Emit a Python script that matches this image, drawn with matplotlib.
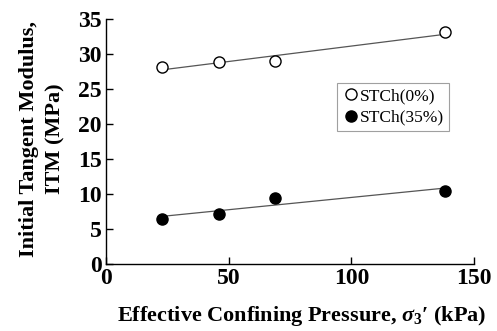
import numpy as np
import matplotlib
matplotlib.use("Agg")
import matplotlib.pyplot as plt

plt.rcParams['font.family'] = ['Liberation Serif', 'DejaVu Serif']
plt.rcParams['mathtext.fontset'] = 'custom'
plt.rcParams['mathtext.rm'] = 'Liberation Serif:bold'
plt.rcParams['mathtext.it'] = 'Liberation Serif:italic:bold'
plt.rcParams['mathtext.bf'] = 'Liberation Serif:bold'

# confining pressure (kPa)
pressure = [23, 46, 69, 138]
# initial tangent modulus (MPa)
itm_0 = [28.1, 28.9, 29.0, 33.1]
itm_35 = [6.5, 7.2, 9.5, 10.5]
labels = ['STCh(0%)', 'STCh(35%)']

fig = plt.figure(figsize=(4.97, 3.31), dpi=100)
ax = fig.add_axes([0.213, 0.2024, 0.741, 0.740])

xs = np.array([min(pressure), max(pressure)])
for vals in (itm_0, itm_35):
    k, b = np.polyfit(pressure, vals, 1)
    ax.plot(xs, k * xs + b, color='#555555', lw=0.9, zorder=1)

ax.plot(pressure, itm_0, 'o', ms=8, mfc='white', mec='black', mew=1.0,
        label=labels[0], zorder=3)
ax.plot(pressure, itm_35, 'o', ms=8, mfc='black', mec='black', mew=1.0,
        label=labels[1], zorder=3)

ax.set_xlim(0, 150)
ax.set_ylim(0, 35)
ax.set_xticks([0, 50, 100, 150])
ax.set_yticks(range(0, 36, 5))
ax.spines['top'].set_visible(False)
ax.spines['right'].set_visible(False)
for s in ('left', 'bottom'):
    ax.spines[s].set_linewidth(1.0)
ax.tick_params(direction='in', length=5, width=1.0, labelsize=17, pad=3)
for t in ax.get_xticklabels() + ax.get_yticklabels():
    t.set_fontweight('bold')

ax.set_xlabel("Effective Confining Pressure, $\\sigma_3$\u2032 (kPa)",
              fontsize=16, fontweight='bold')
ax.xaxis.set_label_coords(0.533, -0.165)
ax.set_ylabel("Initial Tangent Modulus,\nITM (MPa)", fontsize=16,
              fontweight='bold', linespacing=1.4)
ax.yaxis.set_label_coords(-0.11, 0.51)

leg = ax.legend(loc='upper left', bbox_to_anchor=(0.628, 0.739), fontsize=12.5,
                frameon=True, fancybox=False, handletextpad=0.0,
                handlelength=1.0, borderpad=0.3, labelspacing=0.3,
                borderaxespad=0)
leg.get_frame().set_edgecolor('#888888')
leg.get_frame().set_linewidth(0.8)

fig.savefig('out.png', dpi=100)
